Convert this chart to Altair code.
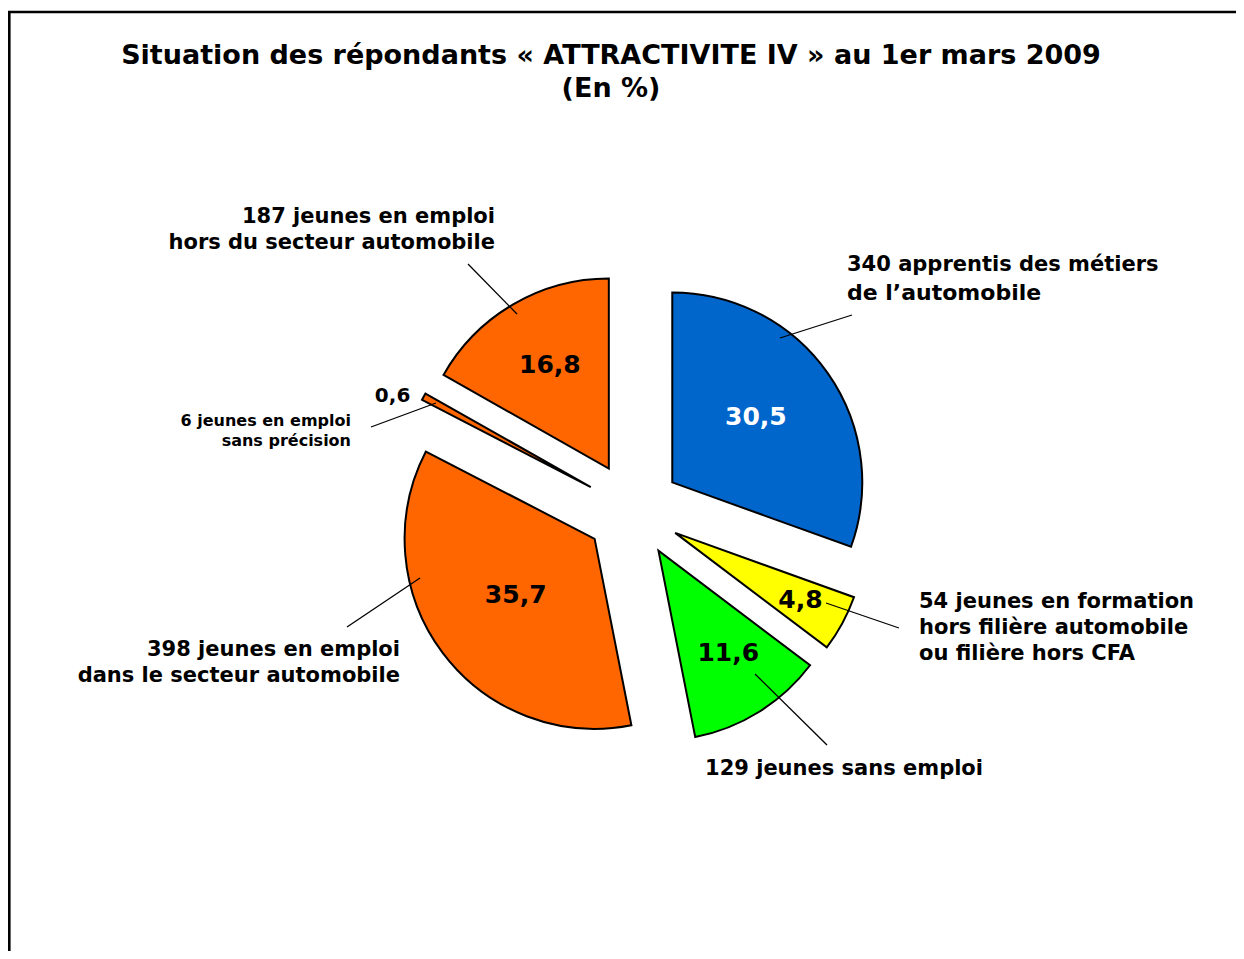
import math
import altair as alt
import pandas as pd

# ---------------- data ----------------
title_lines = [
    "Situation des répondants « ATTRACTIVITE IV » au 1er mars 2009",
    "(En %)",
]
categories = [
    "340 apprentis des métiers de l’automobile",
    "54 jeunes en formation hors filière automobile ou filière hors CFA",
    "129 jeunes sans emploi",
    "398 jeunes en emploi dans le secteur automobile",
    "6 jeunes en emploi sans précision",
    "187 jeunes en emploi hors du secteur automobile",
]
label_lines = [
    ["340 apprentis des métiers", "de l’automobile"],
    ["54 jeunes en formation", "hors filière automobile", "ou filière hors CFA"],
    ["129 jeunes sans emploi"],
    ["398 jeunes en emploi", "dans le secteur automobile"],
    ["6 jeunes en emploi", "sans précision"],
    ["187 jeunes en emploi", "hors du secteur automobile"],
]
counts = [340, 54, 129, 398, 6, 187]
values = [30.5, 4.8, 11.6, 35.7, 0.6, 16.8]

# ---------------- styles / layout ----------------
colors = ["#0066CC", "#FFFF00", "#00FF00", "#FF6600", "#FF6600", "#FF6600"]
value_text_colors = ["#FFFFFF", "#000000", "#000000", "#000000", "#000000", "#000000"]
FONT = "DejaVu Sans"
M = 8                       # page margin
W, H = 1228, 943
CX, CY = 633 - M, 510 - M   # pie centre (chart px)
R = 190
EXPLODE = 48
value_label_r = [154, 190, 172, 145, 266, 167]
value_label_nudge = [-2.0, -0.2, -1.6, 0.9, -3.1, 0.4]   # degrees
value_label_size = [25, 25, 25, 25, 20, 25]

# label blocks: (x, first line centre y, align, font sizes per line)
label_layout = [
    (847, 265, "left", [21, 22]),
    (919, 602, "left", [21, 21, 21]),
    (844, 769, "center", [21]),
    (400, 650, "right", [21, 21]),
    (351, 421, "right", [16, 16]),
    (495, 217, "right", [21, 21]),
]
label_line_gap = [28, 26, 26, 26, 20, 26]
leader_lines = [
    (852, 315, 780, 338),
    (899, 628, 826, 603),
    (827, 745, 755, 674),
    (347, 627, 420, 578),
    (371, 427, 436, 403),
    (468, 264, 517, 314),
]

# ---------------- tables ----------------
pie_df = pd.DataFrame({
    "order": list(range(len(values))),
    "category": categories,
    "count": counts,
    "value": values,
    "color": colors,
    "tcolor": value_text_colors,
    "lr": value_label_r,
    "nudge": value_label_nudge,
    "fsize": value_label_size,
})

rows = []
for lines, (lx, ly, al, sizes), gap in zip(label_lines, label_layout, label_line_gap):
    for i, (t, s) in enumerate(zip(lines, sizes)):
        rows.append({"x": lx - M, "y": ly - M + i * gap, "text": t, "align": al, "size": s})
ann_df = pd.DataFrame(rows)

lead_df = pd.DataFrame([
    {"x": a - M, "y": b - M, "x2": c - M, "y2": d - M} for a, b, c, d in leader_lines
])

title_df = pd.DataFrame({
    "text": title_lines,
    "x": [611 - M, 611 - M],
    "y": [56 - M, 89 - M],
})

# ---------------- chart ----------------
base = (
    alt.Chart(pie_df)
    .transform_window(cum="sum(value)", sort=[alt.SortField("order")], frame=[None, 0])
    .transform_calculate(start="datum.cum - datum.value")
    .transform_calculate(mid="(datum.cum - datum.value / 2) / 100 * 2 * PI")
    .transform_calculate(px=f"{CX} + {EXPLODE} * sin(datum.mid)")
    .transform_calculate(py=f"{CY} - {EXPLODE} * cos(datum.mid)")
    .transform_calculate(la="datum.mid + datum.nudge * PI / 180")
    .transform_calculate(lx=f"{CX} + datum.lr * sin(datum.la)")
    .transform_calculate(ly=f"{CY} - datum.lr * cos(datum.la)")
    .transform_calculate(vtext="replace(format(datum.value, '.1f'), '.', ',')")
)

slices = base.mark_arc(radius=R, stroke="black", strokeWidth=2).encode(
    theta=alt.Theta("start:Q", stack=None,
                    scale=alt.Scale(domain=[0, 100], range=[0, 2 * math.pi])),
    theta2="cum:Q",
    x=alt.X("px:Q", scale=None),
    y=alt.Y("py:Q", scale=None),
    color=alt.Color("color:N", scale=None),
    tooltip=["category:N", "count:Q", "value:Q"],
)

value_labels = base.mark_text(font=FONT, fontWeight="bold", baseline="middle",
                              align="center").encode(
    x=alt.X("lx:Q", scale=None),
    y=alt.Y("ly:Q", scale=None),
    text="vtext:N",
    color=alt.Color("tcolor:N", scale=None),
    size=alt.Size("fsize:Q", scale=None),
)

leaders = alt.Chart(lead_df).mark_rule(color="black", strokeWidth=1.3).encode(
    x=alt.X("x:Q", scale=None), y=alt.Y("y:Q", scale=None),
    x2="x2:Q", y2="y2:Q",
)

def ann_layer(al):
    return alt.Chart(ann_df).transform_filter(f"datum.align == '{al}'").mark_text(
        font=FONT, fontWeight="bold", baseline="middle", align=al, color="black"
    ).encode(
        x=alt.X("x:Q", scale=None), y=alt.Y("y:Q", scale=None),
        text="text:N", size=alt.Size("size:Q", scale=None),
    )

titles = alt.Chart(title_df).mark_text(
    font=FONT, fontWeight="bold", fontSize=27, baseline="middle", align="center",
    color="black",
).encode(x=alt.X("x:Q", scale=None), y=alt.Y("y:Q", scale=None), text="text:N")

border = alt.Chart(pd.DataFrame({"k": [0]})).mark_rect(
    filled=False, stroke="black", strokeWidth=2.6
).encode(
    x=alt.value(1.3), x2=alt.value(W + 20), y=alt.value(12 - M), y2=alt.value(H + 20)
)

chart = alt.layer(
    border, slices, leaders, value_labels,
    ann_layer("left"), ann_layer("right"), ann_layer("center"), titles,
).properties(
    width=W, height=H, padding=0, autosize="none", background="white"
).configure_view(stroke=None)

chart.save("out.html", embed_options={"renderer": "svg", "actions": False})
